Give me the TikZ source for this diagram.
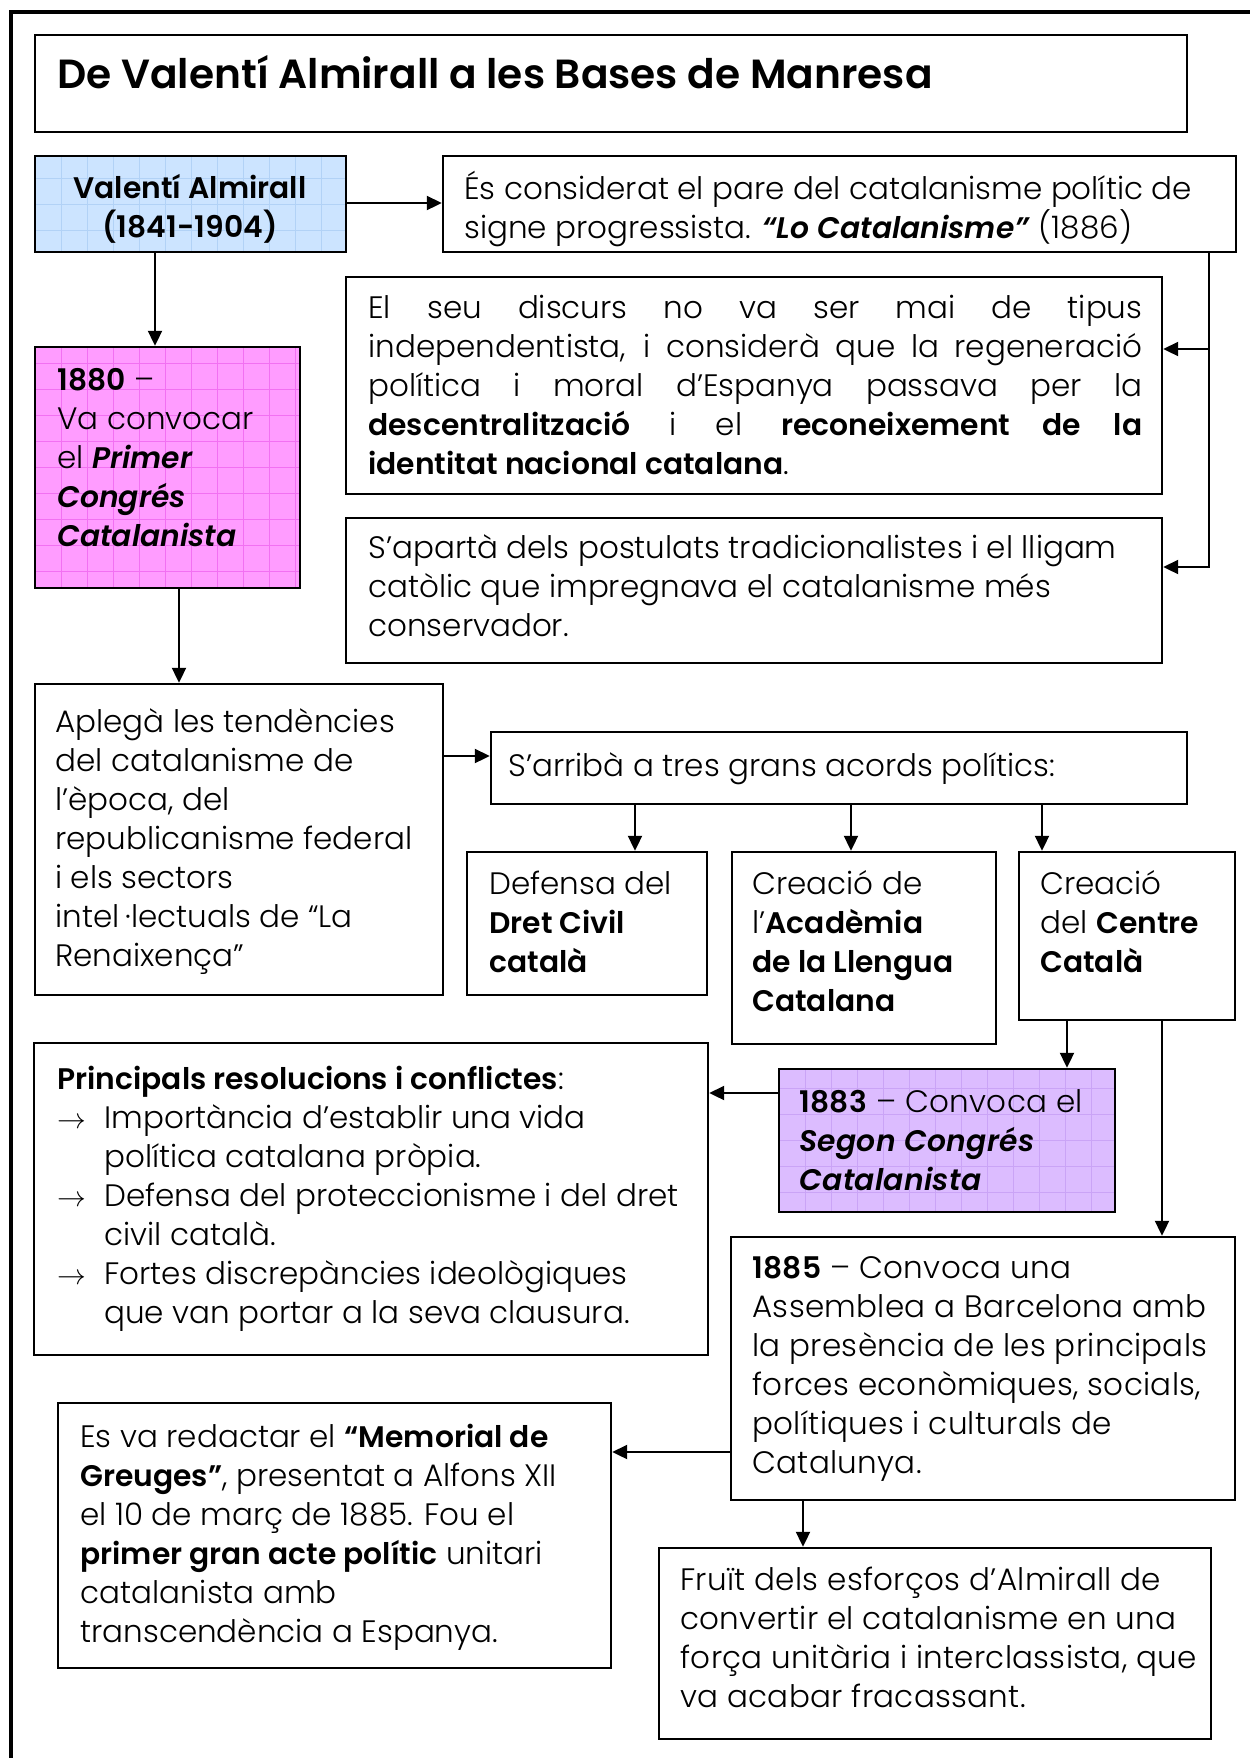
\documentclass[tikz,border=0pt]{standalone}
\usepackage{fontspec}
\setmainfont{Poppins}[UprightFont=* Light, ItalicFont=* Light Italic, BoldFont=* SemiBold, BoldItalicFont=* SemiBold Italic,
  BoldFeatures={Scale=0.96}, BoldItalicFeatures={Scale=0.96}]
\usetikzlibrary{arrows.meta,fit}

\definecolor{almblue}{RGB}{204,228,255}
\definecolor{almbluegrid}{RGB}{178,210,246}
\definecolor{almpink}{RGB}{255,156,255}
\definecolor{almpinkgrid}{RGB}{242,112,242}
\definecolor{almlila}{RGB}{220,188,255}
\definecolor{almlilagrid}{RGB}{202,164,246}

\newcommand{\bodyfont}{\fontsize{15.5}{19.5}\selectfont}
\newcommand{\widefont}{\fontsize{15.5}{19.5}\selectfont\addfontfeature{LetterSpace=1}}
\newcommand{\titlefont}{\fontsize{21.2}{25}\selectfont\bfseries}
\newcommand{\bi}[1]{\textbf{\textit{#1}}}
\newcommand{\jline}[1]{\makebox[387pt][s]{#1}}
\newcommand{\bul}{\makebox[23.5pt][l]{$\rightarrow$}}
\newcommand{\hang}{\hspace*{23.5pt}}

\tikzset{
  box/.style={draw=black, line width=1.2pt, inner sep=0pt, fit={#1}},
  tint/.style={fill=#1, path picture={
      \draw[#1grid, line width=0.4pt] (path picture bounding box.south west)
        grid[step=13pt] (path picture bounding box.north east);}},
  % texts are placed by the baseline of their last line
  txt/.style={inner sep=0pt, anchor=base west, align=left, font=\bodyfont},
  arr/.style={line width=1pt, -{Triangle[length=7.5pt,width=7pt]}}
}

\begin{document}
\begin{tikzpicture}[x=0.5pt, y=-0.5pt]
% page and outer frame
\useasboundingbox (0,0) rectangle (1249,1758);
\draw[line width=1.6pt] (11,1800) -- (11,12) -- (1300,12);

% boxes
\node[box={(35,35) (1187,132)}] (title) {};
\node[box={(35,156) (346,252)}, tint=almblue] (valenti) {};
\node[box={(443,156) (1236,252)}] (es) {};
\node[box={(346,277) (1162,494)}] (discurs) {};
\node[box={(346,518) (1162,663)}] (apartat) {};
\node[box={(35,347) (300,588)}, tint=almpink] (primer) {};
\node[box={(35,684) (443,995)}] (aplega) {};
\node[box={(491,732) (1187,804)}] (arriba) {};
\node[box={(467,852) (707,995)}] (dret) {};
\node[box={(732,852) (996,1044)}] (academia) {};
\node[box={(1019,852) (1235,1020)}] (centre) {};
\node[box={(34,1043) (708,1355)}] (resol) {};
\node[box={(779,1069) (1115,1212)}, tint=almlila] (segon) {};
\node[box={(731,1237) (1235,1500)}] (assemblea) {};
\node[box={(58,1403) (611,1668)}] (memorial) {};
\node[box={(659,1548) (1211,1739)}] (fruit) {};

% texts
\node[txt, font=\titlefont] (title-t) at (57,88) {De Valentí Almirall a les Bases de Manresa};
\node[txt, anchor=base, align=center, font=\bodyfont\bfseries] (valenti-t) at (190,237)
  {Valentí Almirall\\(1841-1904)};
\node[txt] (es-t) at (464,238)
  {És considerat el pare del catalanisme polític de\\
   signe progressista. \bi{“Lo Catalanisme”} (1886)};
\node[txt] (discurs-t) at (368,474)
  {\jline{El seu discurs no va ser mai de tipus}\\
   \jline{independentista, i considerà que la regeneració}\\
   \jline{política i moral d’Espanya passava per la}\\
   \jline{\textbf{descentralització} i el \textbf{reconeixement de la}}\\
   \textbf{identitat nacional catalana}.};
\node[txt] (apartat-t) at (368,636)
  {S’apartà dels postulats tradicionalistes i el lligam\\
   catòlic que impregnava el catalanisme més\\
   conservador.};
\node[txt] (primer-t) at (57,546)
  {\textbf{1880} –\\ Va convocar\\ el \bi{Primer}\\ \bi{Congrés}\\ \bi{Catalanista}};
\node[txt] (aplega-t) at (55,966)
  {Aplegà les tendències\\ del catalanisme de\\ l’època, del\\ republicanisme federal\\
   i els sectors\\ intel\hspace{3pt}·lectuals de “La\\ Renaixença”};
\node[txt] (arriba-t) at (508,776) {S’arribà a tres grans acords polítics:};
\node[txt] (dret-t) at (489,972) {Defensa del\\ \textbf{Dret Civil}\\ \textbf{català}};
\node[txt] (academia-t) at (752,1011)
  {Creació de\\ l’\textbf{Acadèmia}\\ \textbf{de la Llengua}\\ \textbf{Catalana}};
\node[txt] (centre-t) at (1040,972) {Creació\\ del \textbf{Centre}\\ \textbf{Català}};
\node[txt] (resol-t) at (57,1323)
  {\textbf{Principals resolucions i conflictes}:\\
   \bul Importància d’establir una vida\\
   \hang política catalana pròpia.\\
   \bul Defensa del proteccionisme i del dret\\
   \hang civil català.\\
   \bul Fortes discrepàncies ideològiques\\
   \hang que van portar a la seva clausura.};
\node[txt, font=\widefont] (segon-t) at (799,1190)
  {\textbf{1883} – Convoca el\\ \bi{Segon Congrés}\\ \bi{Catalanista}};
\node[txt, font=\widefont] (assemblea-t) at (752,1473)
  {\textbf{1885} – Convoca una\\ Assemblea a Barcelona amb\\ la presència de les principals\\
   forces econòmiques, socials,\\ polítiques i culturals de\\ Catalunya.};
\node[txt] (memorial-t) at (80,1642)
  {Es va redactar el \textbf{“Memorial de}\\ \textbf{Greuges”}, presentat a Alfons XII\\
   el 10 de març de 1885. Fou el\\ \textbf{primer gran acte polític} unitari\\
   catalanista amb\\ transcendència a Espanya.};
\node[txt, font=\widefont] (fruit-t) at (680,1707)
  {Fruït dels esforços d’Almirall de\\ convertir el catalanisme en una\\
   força unitària i interclassista, que\\ va acabar fracassant.};

% connectors
\coordinate (c-val) at (155,203);
\coordinate (c-es) at (1209,349);
\coordinate (c-ap) at (1209,567);
\coordinate (c-pri) at (179,600);
\coordinate (c-apl) at (450,756);
\coordinate (c-dret) at (635,810);
\coordinate (c-acad) at (851,810);
\coordinate (c-cen) at (1042,810);
\coordinate (c-seg) at (1067,1030);
\coordinate (c-ass) at (1162,1030);
\coordinate (c-res) at (760,1093);
\coordinate (c-mem) at (700,1452);
\coordinate (c-fru) at (803,1510);

\draw[arr] (valenti.east |- c-val) -- (es.west |- c-val);
\draw[arr] (valenti.south -| c-val) -- (primer.north -| c-val);
\draw[arr] (es.south -| c-es) |- (discurs.east |- c-es);
\draw[arr] (c-es) |- (apartat.east |- c-ap);
\draw[arr] (primer.south -| c-pri) -- (aplega.north -| c-pri);
\draw[arr] (aplega.east |- c-apl) -- (arriba.west |- c-apl);
\draw[arr] (arriba.south -| c-dret) -- (dret.north -| c-dret);
\draw[arr] (arriba.south -| c-acad) -- (academia.north -| c-acad);
\draw[arr] (arriba.south -| c-cen) -- (centre.north -| c-cen);
\draw[arr] (centre.south -| c-seg) -- (segon.north -| c-seg);
\draw[arr] (centre.south -| c-ass) -- (assemblea.north -| c-ass);
\draw[arr] (segon.west |- c-res) -- (resol.east |- c-res);
\draw[arr] (assemblea.west |- c-mem) -- (memorial.east |- c-mem);
\draw[arr] (assemblea.south -| c-fru) -- (fruit.north -| c-fru);
\end{tikzpicture}
\end{document}
